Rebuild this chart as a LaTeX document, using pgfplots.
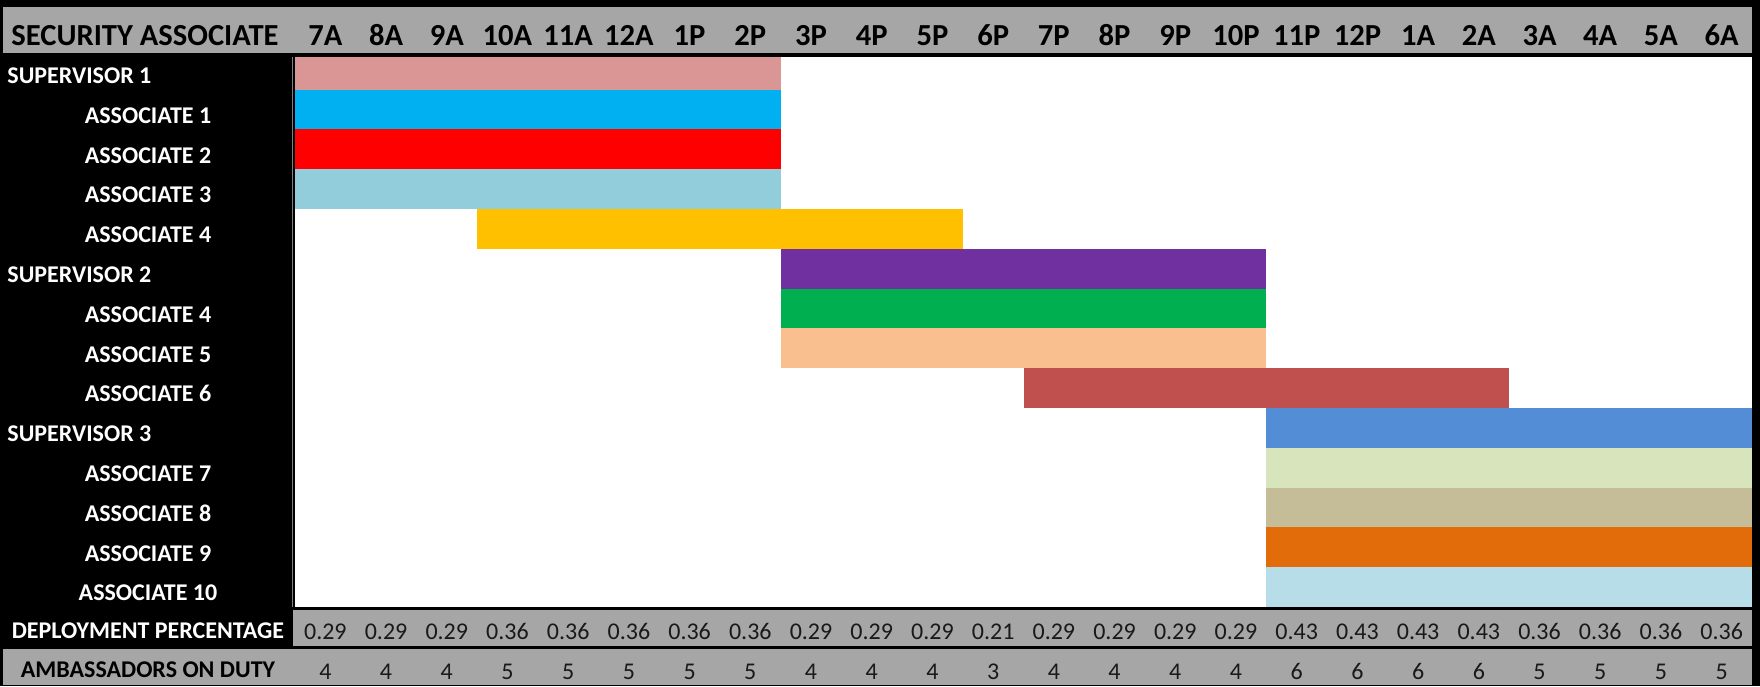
\documentclass[border=0pt]{standalone}
\usepackage{pgfplots}
\pgfplotsset{compat=1.18}
\usepackage{pgfplotstable}
\usepackage{fontspec}
\setmainfont{Carlito}

\definecolor{gband}{HTML}{A6A6A6}
\definecolor{cSupA}{HTML}{DA9694}
\definecolor{cAa}{HTML}{00B0F0}
\definecolor{cAb}{HTML}{FF0000}
\definecolor{cAc}{HTML}{92CDDC}
\definecolor{cAd}{HTML}{FFC000}
\definecolor{cSupB}{HTML}{7030A0}
\definecolor{cAe}{HTML}{00B050}
\definecolor{cAf}{HTML}{FABF8F}
\definecolor{cAg}{HTML}{C0504D}
\definecolor{cSupC}{HTML}{538DD5}
\definecolor{cAh}{HTML}{D8E4BC}
\definecolor{cAi}{HTML}{C4BD97}
\definecolor{cAj}{HTML}{E26B0A}
\definecolor{cAk}{HTML}{B7DEE8}

% hours (columns), deployment percentage, ambassadors on duty
\pgfplotstableread{
col hour dep amb
0 7A 0.29 4
1 8A 0.29 4
2 9A 0.29 4
3 10A 0.36 5
4 11A 0.36 5
5 12A 0.36 5
6 1P 0.36 5
7 2P 0.36 5
8 3P 0.29 4
9 4P 0.29 4
10 5P 0.29 4
11 6P 0.21 3
12 7P 0.29 4
13 8P 0.29 4
14 9P 0.29 4
15 10P 0.29 4
16 11P 0.43 6
17 12P 0.43 6
18 1A 0.43 6
19 2A 0.43 6
20 3A 0.36 5
21 4A 0.36 5
22 5A 0.36 5
23 6A 0.36 5
}\hours

\newcommand\shiftbar[5]{\addplot[fill=#5,draw=none] coordinates {(#1,#3) (#2,#3) (#2,#4) (#1,#4)} -- cycle;}
\newcommand\rowlab[2]{\node[anchor=base,inner sep=0pt,text=white,font=\bfseries\fontsize{12}{14}\selectfont] at (axis cs:-2.4214,#1) {#2};}
\newcommand\suplab[2]{\node[anchor=base west,inner sep=0pt,text=white,font=\bfseries\fontsize{12}{14}\selectfont] at (axis cs:-4.744,#1) {#2};}

\begin{document}
\begin{tikzpicture}
\begin{axis}[
  width=880pt, height=343pt, scale only axis,
  xmin=-4.8593, xmax=24.1318,
  ymin=0, ymax=686, y dir=reverse,
  hide axis, enlargelimits=false,
]
% backgrounds
\addplot[fill=black,draw=none] coordinates {(-4.8593,0) (24.1318,0) (24.1318,686) (-4.8593,686)} -- cycle;
\addplot[fill=gband,draw=none] coordinates {(-4.810,7) (24,7) (24,53) (-4.810,53)} -- cycle;
\addplot[fill=white,draw=none] coordinates {(0,57) (24,57) (24,607) (0,607)} -- cycle;
\addplot[fill=gband,draw=none] coordinates {(-0.033,610) (24,610) (24,646) (-0.033,646)} -- cycle;
\addplot[fill=gband,draw=none] coordinates {(-4.810,649) (24,649) (24,685) (-4.810,685)} -- cycle;
\addplot[draw=gray,line width=0.5pt] coordinates {(-0.04,57) (-0.04,607)};

% shifts: start col, end col, top, bottom, colour
\shiftbar{0}{8}{57}{89.5}{cSupA}
\shiftbar{0}{8}{89.5}{129.3}{cAa}
\shiftbar{0}{8}{129.3}{169.1}{cAb}
\shiftbar{0}{8}{169.1}{208.9}{cAc}
\shiftbar{3}{11}{208.9}{248.7}{cAd}
\shiftbar{8}{16}{248.7}{288.5}{cSupB}
\shiftbar{8}{16}{288.5}{328.3}{cAe}
\shiftbar{8}{16}{328.3}{368.1}{cAf}
\shiftbar{12}{20}{368.1}{407.9}{cAg}
\shiftbar{16}{24}{407.9}{447.7}{cSupC}
\shiftbar{16}{24}{447.7}{487.5}{cAh}
\shiftbar{16}{24}{487.5}{527.3}{cAi}
\shiftbar{16}{24}{527.3}{567.1}{cAj}
\shiftbar{16}{24}{567.1}{606.9}{cAk}

% header hours
\addplot[only marks, mark=none, point meta=explicit symbolic,
  nodes near coords, nodes near coords style={anchor=base,inner sep=0pt,text=black,font=\bfseries\fontsize{15.3}{17}\selectfont}]
  table[x expr=\thisrow{col}+0.5, y expr=45, meta=hour] {\hours};
% deployment percentage
\addplot[only marks, mark=none, point meta=explicit symbolic,
  nodes near coords, nodes near coords style={anchor=base,inner sep=0pt,text=black!90,font=\fontsize{12}{14}\selectfont}]
  table[x expr=\thisrow{col}+0.5, y expr=639, meta=dep] {\hours};
% ambassadors on duty
\addplot[only marks, mark=none, point meta=explicit symbolic,
  nodes near coords, nodes near coords style={anchor=base,inner sep=0pt,text=black!90,font=\fontsize{12}{14}\selectfont}]
  table[x expr=\thisrow{col}+0.5, y expr=679, meta=amb] {\hours};

% labels
\node[anchor=base,inner sep=0pt,text=black,font=\bfseries\fontsize{15.3}{17}\selectfont] at (axis cs:-2.471,45) {SECURITY ASSOCIATE};
\suplab{83}{SUPERVISOR 1}
\rowlab{123.3}{ASSOCIATE 1}
\rowlab{163.1}{ASSOCIATE 2}
\rowlab{202.9}{ASSOCIATE 3}
\rowlab{242.7}{ASSOCIATE 4}
\suplab{282.5}{SUPERVISOR 2}
\rowlab{322.3}{ASSOCIATE 4}
\rowlab{362.1}{ASSOCIATE 5}
\rowlab{401.9}{ASSOCIATE 6}
\suplab{441.7}{SUPERVISOR 3}
\rowlab{481.5}{ASSOCIATE 7}
\rowlab{521.3}{ASSOCIATE 8}
\rowlab{561.1}{ASSOCIATE 9}
\rowlab{600.9}{ASSOCIATE 10}
\rowlab{638}{DEPLOYMENT PERCENTAGE}
\node[anchor=base,inner sep=0pt,text=black,font=\bfseries\fontsize{12}{14}\selectfont] at (axis cs:-2.4214,677) {AMBASSADORS ON DUTY};
\end{axis}
\end{tikzpicture}
\end{document}
